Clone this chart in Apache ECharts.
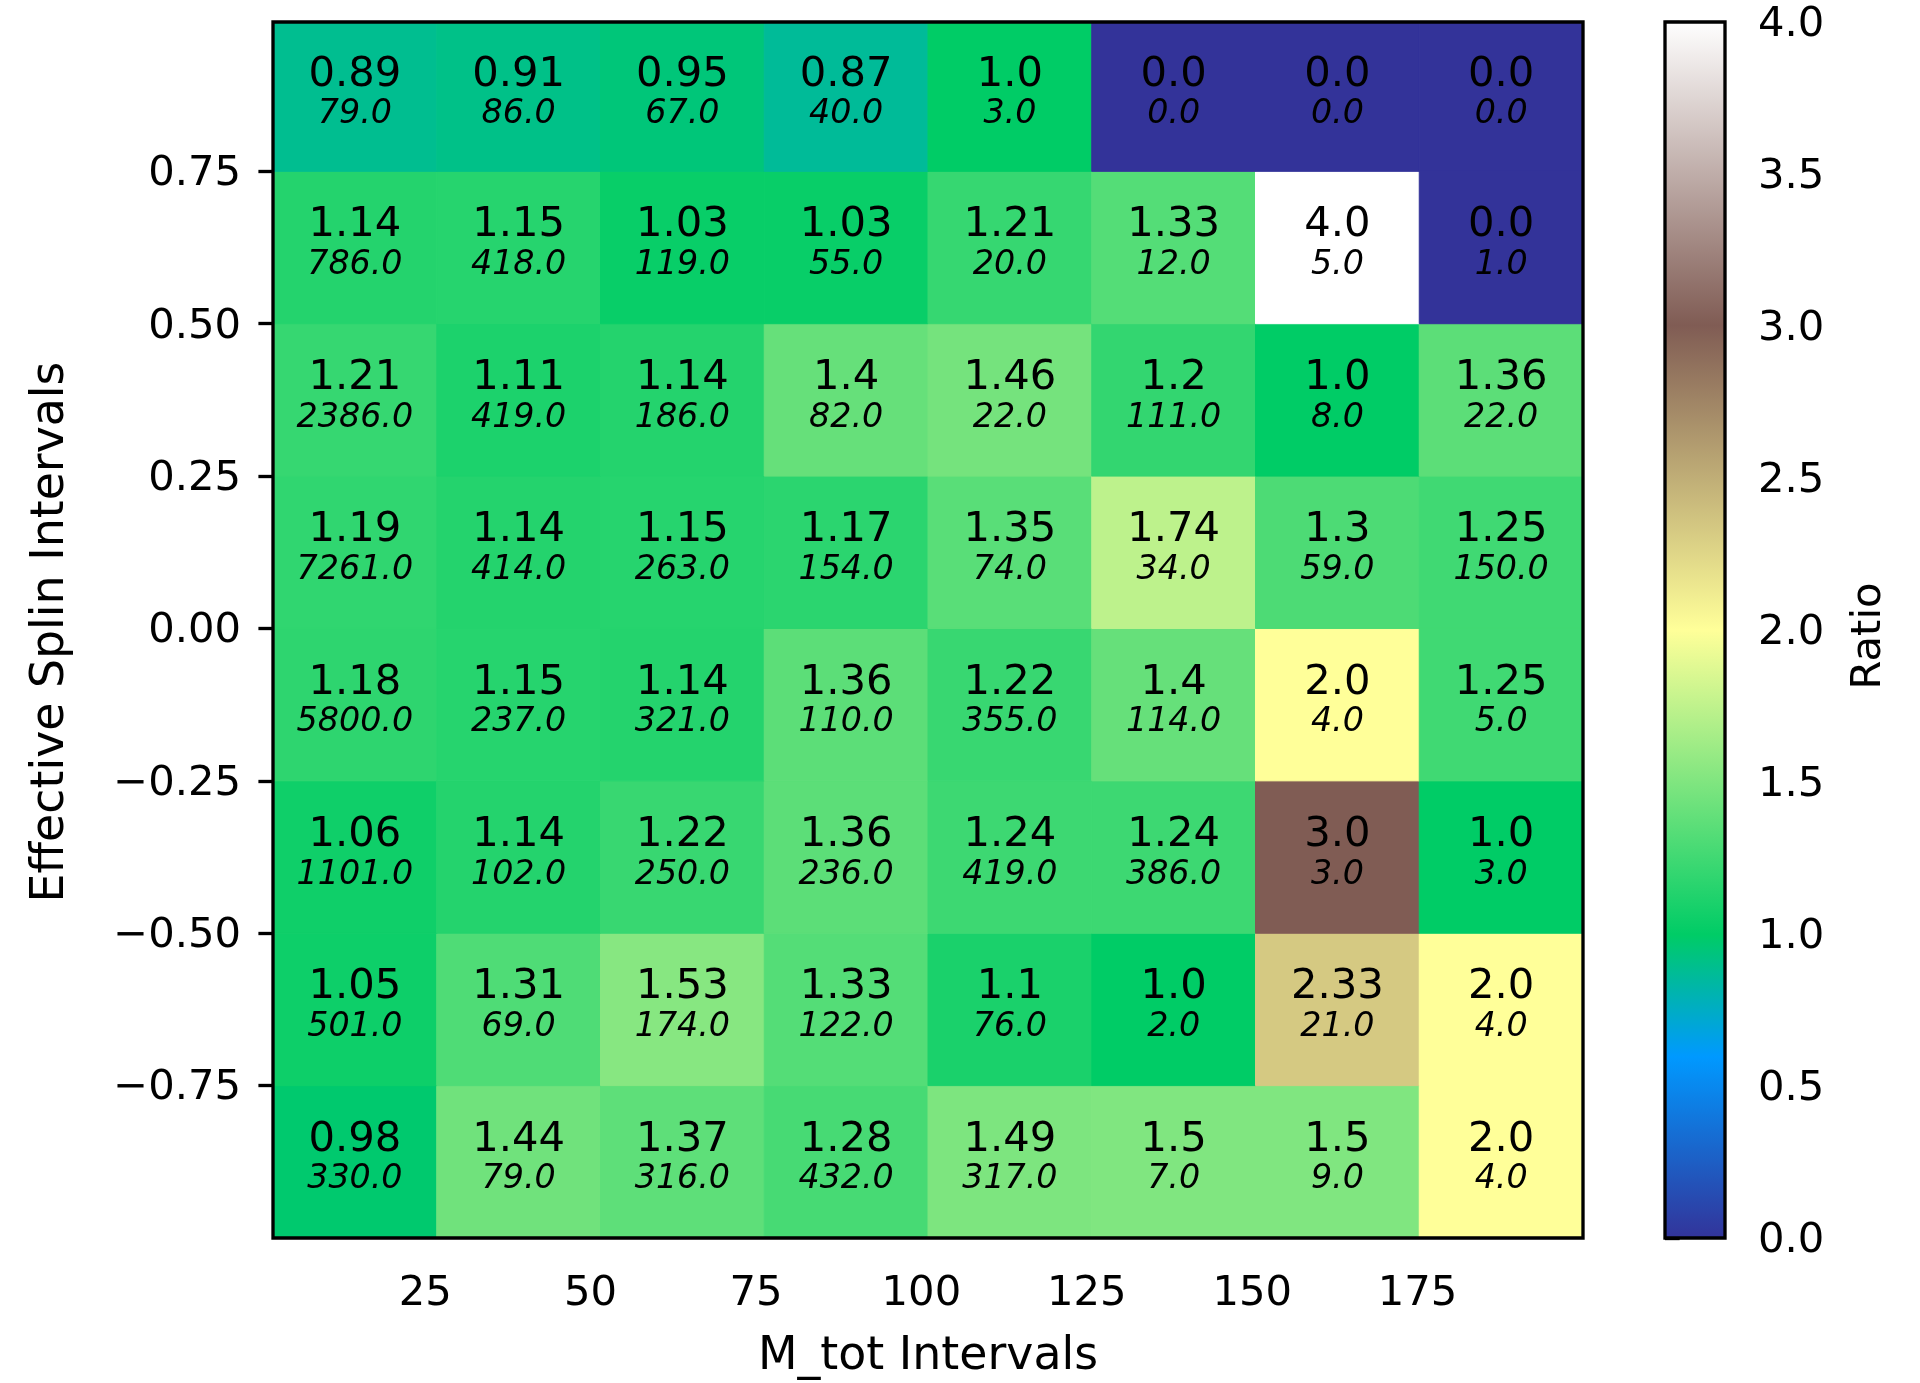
<!DOCTYPE html>
<html>
<head>
<meta charset="utf-8">
<script src="https://cdn.jsdelivr.net/npm/echarts@6/dist/echarts.min.js"></script>
<style>
html, body { margin: 0; padding: 0; background: #fff; }
#chart { width: 1920px; height: 1383px; }
</style>
</head>
<body>
<div id="chart"></div>
<script>
// Bin edges of the two binned quantities
const mTotEdges = [2, 26.75, 51.5, 76.25, 101, 125.75, 150.5, 175.25, 200];
const spinEdges = [-1, -0.75, -0.5, -0.25, 0, 0.25, 0.5, 0.75, 0.995];

// Ratio in each cell; one row per spin bin, lowest spin first
const ratioRows = [
  [0.98, 1.44, 1.37, 1.28, 1.49, 1.5, 1.5, 2.0],
  [1.05, 1.31, 1.53, 1.33, 1.1, 1.0, 2.33, 2.0],
  [1.06, 1.14, 1.22, 1.36, 1.24, 1.24, 3.0, 1.0],
  [1.18, 1.15, 1.14, 1.36, 1.22, 1.4, 2.0, 1.25],
  [1.19, 1.14, 1.15, 1.17, 1.35, 1.74, 1.3, 1.25],
  [1.21, 1.11, 1.14, 1.4, 1.46, 1.2, 1.0, 1.36],
  [1.14, 1.15, 1.03, 1.03, 1.21, 1.33, 4.0, 0.0],
  [0.89, 0.91, 0.95, 0.87, 1.0, 0.0, 0.0, 0.0]
];

// Number of entries in each cell, same layout
const countRows = [
  [330, 79, 316, 432, 317, 7, 9, 4],
  [501, 69, 174, 122, 76, 2, 21, 4],
  [1101, 102, 250, 236, 419, 386, 3, 3],
  [5800, 237, 321, 110, 355, 114, 4, 5],
  [7261, 414, 263, 154, 74, 34, 59, 150],
  [2386, 419, 186, 82, 22, 111, 8, 22],
  [786, 418, 119, 55, 20, 12, 5, 1],
  [79, 86, 67, 40, 3, 0, 0, 0]
];

const mTotTicks = [25, 50, 75, 100, 125, 150, 175];
const spinTicks = [-0.75, -0.5, -0.25, 0, 0.25, 0.5, 0.75];
const ratioMin = 0;
const ratioMax = 4;
const ratioStep = 0.5;

// "terrain" colour map: position -> rgb (0..1)
const terrainStops = [
  [0.00, [0.2, 0.2, 0.6]],
  [0.15, [0.0, 0.6, 1.0]],
  [0.25, [0.0, 0.8, 0.4]],
  [0.50, [1.0, 1.0, 0.6]],
  [0.75, [0.5, 0.36, 0.33]],
  [1.00, [1.0, 1.0, 1.0]]
];

function toCss(c) {
  return 'rgb(' + c.map(v => Math.round(v * 255)).join(',') + ')';
}

function terrain(t) {
  t = Math.max(0, Math.min(1, t));
  for (let i = 1; i < terrainStops.length; i++) {
    const [p1, c1] = terrainStops[i];
    const [p0, c0] = terrainStops[i - 1];
    if (t <= p1) {
      const f = (t - p0) / (p1 - p0);
      return toCss(c0.map((v, k) => v + (c1[k] - v) * f));
    }
  }
  return toCss(terrainStops[terrainStops.length - 1][1]);
}

function fmtRatio(v) {
  return Number.isInteger(v) ? v.toFixed(1) : String(v);
}

function fmtTick(v, digits) {
  return (v < 0 ? '\u2212' : '') + Math.abs(v).toFixed(digits);
}

// One record per cell: [x0, x1, y0, y1, ratio, count]
const cells = [];
ratioRows.forEach((row, j) => {
  row.forEach((r, i) => {
    cells.push([mTotEdges[i], mTotEdges[i + 1], spinEdges[j], spinEdges[j + 1], r, countRows[j][i]]);
  });
});

const FONT = 'DejaVu Sans';
const TICK_SIZE = 41.7;
const TITLE_SIZE = 45.8;
const LINE_W = 3.33;
const TICK_LEN = 14.6;

// vertical tick labels sit slightly below their tick
const tickRich = {
  t: { fontFamily: FONT, fontSize: TICK_SIZE, color: '#000', padding: [6, 0, 0, 0] }
};

const chart = echarts.init(document.getElementById('chart'), null, { renderer: 'canvas' });

chart.setOption({
  animation: false,
  backgroundColor: '#ffffff',
  grid: [
    { left: 273, top: 22, width: 1310, height: 1216 },
    { left: 1665, top: 22, width: 60, height: 1216 }
  ],
  xAxis: [
    {
      type: 'value', gridIndex: 0,
      min: mTotEdges[0], max: mTotEdges[mTotEdges.length - 1],
      axisLine: { show: false },
      axisTick: { show: true, length: TICK_LEN, customValues: mTotTicks,
        lineStyle: { color: '#000', width: LINE_W } },
      axisLabel: { show: true, customValues: mTotTicks, margin: 35,
        color: '#000', fontFamily: FONT, fontSize: TICK_SIZE,
        formatter: v => String(v) },
      splitLine: { show: false }
    },
    {
      type: 'value', gridIndex: 1, min: 0, max: 1, show: false
    }
  ],
  yAxis: [
    {
      type: 'value', gridIndex: 0,
      min: spinEdges[0], max: spinEdges[spinEdges.length - 1],
      axisLine: { show: false },
      axisTick: { show: true, length: TICK_LEN, customValues: spinTicks,
        lineStyle: { color: '#000', width: LINE_W } },
      axisLabel: { show: true, customValues: spinTicks, margin: 32,
        color: '#000', fontFamily: FONT, fontSize: TICK_SIZE,
        rich: tickRich,
        formatter: v => '{t|' + fmtTick(v, 2) + '}' },
      splitLine: { show: false }
    },
    {
      type: 'value', gridIndex: 1, position: 'right',
      min: ratioMin, max: ratioMax, interval: ratioStep,
      axisLine: { show: false },
      axisTick: { show: true, length: TICK_LEN, lineStyle: { color: '#000', width: LINE_W } },
      axisLabel: { show: true, margin: 33, color: '#000', fontFamily: FONT, fontSize: TICK_SIZE,
        rich: tickRich,
        formatter: v => '{t|' + fmtTick(v, 1) + '}' },
      splitLine: { show: false }
    }
  ],
  series: [
    {
      type: 'custom',
      xAxisIndex: 0, yAxisIndex: 0,
      data: cells,
      encode: { x: [0, 1], y: [2, 3] },
      z: 2,
      renderItem: function (params, api) {
        const x0 = api.value(0), x1 = api.value(1);
        const y0 = api.value(2), y1 = api.value(3);
        const ratio = api.value(4), count = api.value(5);
        const pTL = api.coord([x0, y1]);
        const pBR = api.coord([x1, y0]);
        const cx = (pTL[0] + pBR[0]) / 2;
        const cy = (pTL[1] + pBR[1]) / 2;
        const color = terrain((ratio - ratioMin) / (ratioMax - ratioMin));
        return {
          type: 'group',
          children: [
            {
              type: 'rect',
              shape: { x: pTL[0], y: pTL[1], width: pBR[0] - pTL[0], height: pBR[1] - pTL[1] },
              style: { fill: color, stroke: color, lineWidth: 1 }
            },
            {
              type: 'text', x: cx, y: cy - 22, z2: 5,
              style: { text: fmtRatio(ratio), fill: '#000', fontFamily: FONT, fontSize: 41.7,
                align: 'center', verticalAlign: 'middle' }
            },
            {
              type: 'text', x: cx, y: cy + 18, z2: 5,
              style: { text: count.toFixed(1), fill: '#000', fontFamily: FONT, fontSize: 33.3,
                fontStyle: 'italic', align: 'center', verticalAlign: 'middle' }
            }
          ]
        };
      }
    },
    {
      // frame around the cell grid
      type: 'custom',
      xAxisIndex: 0, yAxisIndex: 0,
      data: [[mTotEdges[0], mTotEdges[mTotEdges.length - 1], spinEdges[0], spinEdges[spinEdges.length - 1]]],
      encode: { x: [0, 1], y: [2, 3] },
      z: 5,
      silent: true,
      renderItem: function (params, api) {
        const pTL = api.coord([api.value(0), api.value(3)]);
        const pBR = api.coord([api.value(1), api.value(2)]);
        return {
          type: 'rect',
          shape: { x: pTL[0], y: pTL[1], width: pBR[0] - pTL[0], height: pBR[1] - pTL[1] },
          style: { fill: 'none', stroke: '#000', lineWidth: LINE_W }
        };
      }
    },
    {
      // colour bar
      type: 'custom',
      xAxisIndex: 1, yAxisIndex: 1,
      data: [[0, 1, ratioMin, ratioMax]],
      encode: { x: [0, 1], y: [2, 3] },
      z: 2,
      silent: true,
      renderItem: function (params, api) {
        const pTL = api.coord([api.value(0), api.value(3)]);
        const pBR = api.coord([api.value(1), api.value(2)]);
        const stops = terrainStops.map(s => ({ offset: s[0], color: toCss(s[1]) }));
        return {
          type: 'rect',
          shape: { x: pTL[0], y: pTL[1], width: pBR[0] - pTL[0], height: pBR[1] - pTL[1] },
          style: {
            fill: new echarts.graphic.LinearGradient(0, 1, 0, 0, stops),
            stroke: '#000', lineWidth: LINE_W
          }
        };
      }
    }
  ],
  graphic: [
    {
      type: 'text', x: 928, y: 1357,
      style: { text: 'M_tot Intervals', fill: '#000', fontFamily: FONT, fontSize: TITLE_SIZE,
        align: 'center', verticalAlign: 'middle' }
    },
    {
      type: 'text', x: 51, y: 632, rotation: Math.PI / 2,
      style: { text: 'Effective Splin Intervals', fill: '#000', fontFamily: FONT, fontSize: TITLE_SIZE,
        align: 'center', verticalAlign: 'middle' }
    },
    {
      type: 'text', x: 1869, y: 636, rotation: Math.PI / 2,
      style: { text: 'Ratio', fill: '#000', fontFamily: FONT, fontSize: TICK_SIZE,
        align: 'center', verticalAlign: 'middle' }
    }
  ]
});
</script>
</body>
</html>
